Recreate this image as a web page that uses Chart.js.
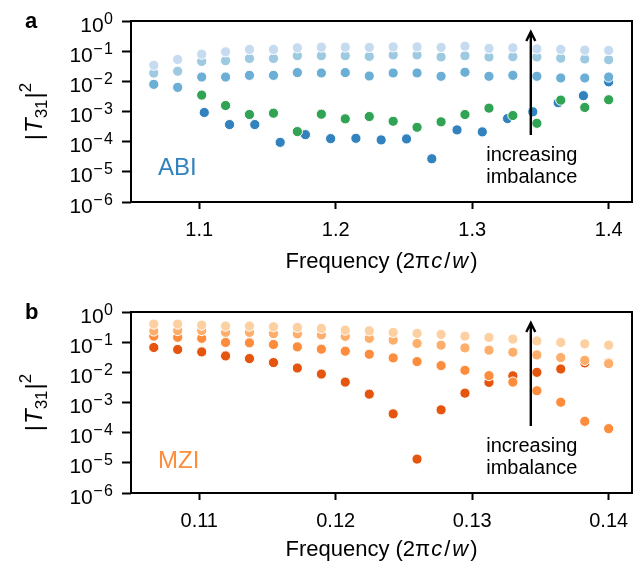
<!DOCTYPE html>
<html>
<head>
<meta charset="utf-8">
<script src="https://cdn.jsdelivr.net/npm/chart.js@4.4.1/dist/chart.umd.min.js"></script>
<style>
  body { margin: 0; background: #fff; }
  canvas { display: block; }
</style>
</head>
<body>
<canvas id="chart-a" width="644" height="284"></canvas>
<canvas id="chart-b" width="644" height="284"></canvas>
<script>
// frequencies (2*pi*c/w)
const freqAbi = [1.0667, 1.0842, 1.1018, 1.1193, 1.1368, 1.1544, 1.1719, 1.1895, 1.2070, 1.2246,
                 1.2421, 1.2596, 1.2772, 1.2947, 1.3123, 1.3298, 1.3474, 1.3649, 1.3825, 1.4000];
const freqAbiDark = [1.1037, 1.1222, 1.1407, 1.1593, 1.1778, 1.1963, 1.2148, 1.2333, 1.2519,
                     1.2704, 1.2889, 1.3074, 1.3259, 1.3444, 1.3630, 1.3815, 1.4000];
const freqMzi = [0.10667, 0.10842, 0.11018, 0.11193, 0.11368, 0.11544, 0.11719, 0.11895, 0.12070, 0.12246,
                 0.12421, 0.12596, 0.12772, 0.12947, 0.13123, 0.13298, 0.13474, 0.13649, 0.13825, 0.14000];

// |T31|^2, ABI, lightest (largest imbalance) first
const abi1 = [0.0341, 0.0529, 0.0794, 0.0948, 0.114, 0.114, 0.129, 0.136, 0.136, 0.133,
              0.139, 0.139, 0.133, 0.147, 0.123, 0.129, 0.119, 0.114, 0.108, 0.106];
const abi2 = [0.0188, 0.0216, 0.0457, 0.0483, 0.0575, 0.0575, 0.0708, 0.0708, 0.0708, 0.0671,
              0.0747, 0.0747, 0.0641, 0.0708, 0.0641, 0.0656, 0.0641, 0.0585, 0.055, 0.052];
const abi3 = [0.00794, 0.00631, 0.0139, 0.0139, 0.0158, 0.0158, 0.0195, 0.0189, 0.0195, 0.0150,
              0.0189, 0.0189, 0.0147, 0.0200, 0.0147, 0.0158, 0.0147, 0.0129, 0.0129, 0.0139];
const abiGreen = [null, null, 3.49e-3, 1.58e-3, 7.94e-4, 8.77e-4, 2.16e-4, 8.13e-4, 5.71e-4, 6.81e-4,
                  4.75e-4, 3.0e-4, 4.54e-4, 7.94e-4, 1.29e-3, 7.36e-4, 4.07e-4, 2.38e-3, 1.36e-3, 2.45e-3];
const abiDark = [9.26e-4, 3.69e-4, 3.69e-4, 9.48e-5, 1.71e-4, 1.26e-4, 1.29e-4, 1.14e-4, 1.23e-4,
                 2.71e-5, 2.45e-4, 2.11e-4, 5.84e-4, 9.77e-4, 1.95e-3, 3.34e-3, 9.6e-3];

// |T31|^2, MZI
const mzi1 = [0.398, 0.398, 0.369, 0.341, 0.341, 0.324, 0.309, 0.286, 0.251, 0.238,
              0.211, 0.195, 0.181, 0.158, 0.143, 0.126, 0.110, 0.0977, 0.0878, 0.0794];
const mzi2 = [0.235, 0.242, 0.242, 0.212, 0.212, 0.192, 0.188, 0.174, 0.156, 0.134,
              0.117, 0.0905, 0.0794, 0.0646, 0.0541, 0.0464, 0.0377, 0.0309, 0.0251, 0.0195];
const mzi3 = [0.158, 0.145, 0.134, 0.0977, 0.0948, 0.0838, 0.0697, 0.0585, 0.0501, 0.0398,
              0.030, 0.0227, 0.0167, 0.0117, 0.00776, 0.00475, 0.00245, 0.00102, 2.38e-4, 1.36e-4];
const mzi4 = [0.0666, 0.0571, 0.0475, 0.0349, 0.0286, 0.0211, 0.0139, 0.00877, 0.00475, 0.00189,
              4.2e-4, 1.33e-5, 5.71e-4, 2.04e-3, 4.64e-3, 7.64e-3, 0.01, 0.0129, 0.0205, 0.0205];

const yTicks = [1e-6, 1e-5, 1e-4, 1e-3, 1e-2, 1e-1, 1];
const xTicksAbi = [1.1, 1.2, 1.3, 1.4];
const xTicksMzi = [0.11, 0.12, 0.13, 0.14];

const FONT = "'Liberation Sans', Arial, sans-serif";

function pts(xs, ys) {
    return xs.map((x, i) => ({ x: x, y: ys[i] }));
}

function series(xs, ys, color) {
    return {
        data: pts(xs, ys),
        backgroundColor: color,
        borderColor: '#fff',
        borderWidth: 1,
        pointRadius: 5.1,
        showLine: false
    };
}

// text pieces drawn one after another: [text, font, dy, gapAfter]
function drawPieces(ctx, pieces, x, y, align) {
    let total = 0;
    pieces.forEach(p => { ctx.font = p[1]; total += ctx.measureText(p[0]).width + (p[3] || 0); });
    let cx = align === 'center' ? x - total / 2 : (align === 'right' ? x - total : x);
    ctx.textAlign = 'left';
    ctx.textBaseline = 'alphabetic';
    pieces.forEach(p => {
        ctx.font = p[1];
        ctx.fillText(p[0], cx, y + (p[2] || 0));
        cx += ctx.measureText(p[0]).width + (p[3] || 0);
    });
}

const decor = {
    id: 'decor',
    afterDatasetsDraw(chart, args, o) {
        const ctx = chart.ctx;
        const a = chart.chartArea;
        const fx = f => a.left + f * (a.right - a.left);
        const fy = f => a.bottom - f * (a.bottom - a.top);
        ctx.save();

        // box
        ctx.strokeStyle = '#000';
        ctx.lineWidth = 2;
        ctx.strokeRect(a.left, a.top, a.right - a.left, a.bottom - a.top);

        // arrow
        const ax = fx(0.798);
        const y0 = fy(0.37), y1 = fy(0.939);
        ctx.lineWidth = 2.4;
        ctx.beginPath();
        ctx.moveTo(ax, y0);
        ctx.lineTo(ax, y1 + 1);
        ctx.moveTo(ax - 4.5, y1 + 9);
        ctx.lineTo(ax, y1);
        ctx.lineTo(ax + 4.5, y1 + 9);
        ctx.stroke();

        // labels inside the panel
        ctx.fillStyle = '#000';
        ctx.font = '20px ' + FONT;
        ctx.textAlign = 'left';
        ctx.textBaseline = 'alphabetic';
        ctx.fillText('increasing', fx(0.709), fy(0.228));
        ctx.fillText('imbalance', fx(0.709), fy(0.105));

        ctx.fillStyle = o.nameColor;
        ctx.font = '24px ' + FONT;
        ctx.fillText(o.name, fx(0.054), fy(o.nameY));

        // panel letter
        ctx.fillStyle = '#000';
        ctx.font = 'bold 22px ' + FONT;
        ctx.fillText(o.letter, 25, a.top + 7);

        // y tick labels 10^n
        const ys = chart.scales.y;
        const sup = '16px ' + FONT;
        ys.ticks.forEach(t => {
            const yp = ys.getPixelForValue(t.value);
            const e = Math.round(Math.log10(t.value));
            const pieces = [['10', '21px ' + FONT, 8, 0.5]];
            if (e < 0) {
                pieces.push(['\u2212', sup, 0, 1.5]);
            }
            pieces.push([String(Math.abs(e)), sup, 0]);
            drawPieces(ctx, pieces, 113, yp + 2.5, 'right');
        });

        // y title |T31|^2
        ctx.save();
        ctx.translate(42, (a.top + a.bottom) / 2);
        ctx.rotate(-Math.PI / 2);
        drawPieces(ctx, [
            ['|', '24px ' + FONT, 0, 1],
            ['T', 'italic 24px ' + FONT, 0, 0],
            ['31', '17px ' + FONT, 5, 1],
            ['|', '24px ' + FONT, 0, 0],
            ['2', '17px ' + FONT, -11]
        ], 0, 0, 'center');
        ctx.restore();

        // x title
        drawPieces(ctx, [
            ['Frequency (', '22px ' + FONT, 0, 0],
            ['2\u03c0', '22px ' + FONT, 0, 1],
            ['c', 'italic 22px ' + FONT, 0, 2],
            ['/', '22px ' + FONT, 0, 2],
            ['w', 'italic 22px ' + FONT, 0, 2],
            [')', '22px ' + FONT]
        ], (a.left + a.right) / 2, a.bottom + o.titleOffset, 'center');

        ctx.restore();
    }
};

function makePanel(id, datasets, xMin, xMax, xTicks, digits, top, decorOpts) {
    return new Chart(document.getElementById(id).getContext('2d'), {
        type: 'scatter',
        data: { datasets: datasets },
        plugins: [decor],
        options: {
            responsive: false,
            animation: false,
            events: [],
            layout: { padding: { top: top, right: 12, left: 0, bottom: 0 } },
            plugins: {
                legend: { display: false },
                tooltip: { enabled: false },
                decor: decorOpts
            },
            scales: {
                x: {
                    type: 'linear',
                    min: xMin,
                    max: xMax,
                    afterBuildTicks: s => { s.ticks = xTicks.map(v => ({ value: v })); },
                    afterFit: s => { s.height = 284 - top - 181; },
                    grid: { drawOnChartArea: false, drawTicks: true, tickLength: 7, tickWidth: 2, tickColor: '#000' },
                    border: { display: false },
                    ticks: {
                        autoSkip: false,
                        maxRotation: 0,
                        padding: 9,
                        color: '#000',
                        font: { family: FONT, size: 20 },
                        callback: v => v.toFixed(digits)
                    }
                },
                y: {
                    type: 'logarithmic',
                    min: 1e-6,
                    max: 1,
                    afterBuildTicks: s => { s.ticks = yTicks.map(v => ({ value: v })); },
                    afterFit: s => { s.width = 131; },
                    grid: { drawOnChartArea: false, drawTicks: true, tickLength: 9, tickWidth: 2, tickColor: '#000' },
                    border: { display: false },
                    ticks: { display: false }
                }
            }
        }
    });
}

makePanel('chart-a', [
    series(freqAbi, abi1, '#c6dbef'),
    series(freqAbi, abi2, '#9ecae1'),
    series(freqAbi, abi3, '#6baed6'),
    series(freqAbi, abiGreen, '#31a354'),
    series(freqAbiDark, abiDark, '#3182bd')
], 1.05, 1.4171, xTicksAbi, 1, 21,
   { name: 'ABI', nameColor: '#3182bd', nameY: 0.149, letter: 'a', titleOffset: 66 });

makePanel('chart-b', [
    series(freqMzi, mzi1, '#fdd0a2'),
    series(freqMzi, mzi2, '#fdae6b'),
    series(freqMzi, mzi3, '#fd8d3c'),
    series(freqMzi, mzi4, '#e6550d')
], 0.105, 0.14171, xTicksMzi, 2, 28,
   { name: 'MZI', nameColor: '#fd8d3c', nameY: 0.139, letter: 'b', titleOffset: 63 });
</script>
</body>
</html>
